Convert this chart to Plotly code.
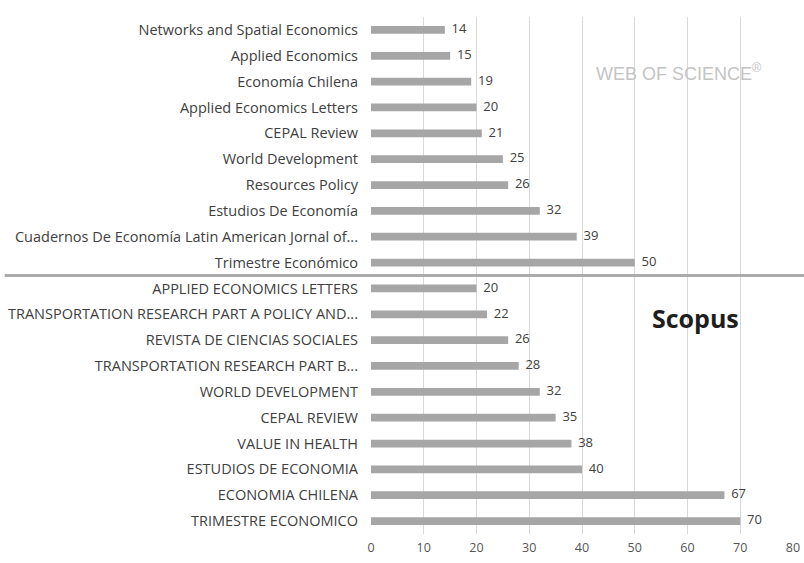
import plotly.graph_objects as go

wos_journals = [
    "Networks and Spatial Economics",
    "Applied Economics",
    "Economía Chilena",
    "Applied Economics Letters",
    "CEPAL Review",
    "World Development",
    "Resources Policy",
    "Estudios De Economía",
    "Cuadernos De Economía Latin American Jornal of...",
    "Trimestre Económico",
]
wos_counts = [14, 15, 19, 20, 21, 25, 26, 32, 39, 50]

scopus_journals = [
    "APPLIED ECONOMICS LETTERS",
    "TRANSPORTATION RESEARCH PART A POLICY AND...",
    "REVISTA DE CIENCIAS SOCIALES",
    "TRANSPORTATION RESEARCH PART B...",
    "WORLD DEVELOPMENT",
    "CEPAL REVIEW",
    "VALUE IN HEALTH",
    "ESTUDIOS DE ECONOMIA",
    "ECONOMIA CHILENA",
    "TRIMESTRE ECONOMICO",
]
scopus_counts = [20, 22, 26, 28, 32, 35, 38, 40, 67, 70]

x_ticks = [0, 10, 20, 30, 40, 50, 60, 70, 80]

labels = wos_journals + scopus_journals
values = wos_counts + scopus_counts
positions = list(range(len(labels)))

FONT = "Open Sans"

fig = go.Figure()
fig.add_trace(go.Bar(
    y=positions,
    x=values,
    orientation="h",
    width=0.3,
    marker=dict(color="#a6a6a6", line=dict(width=0)),
    hoverinfo="skip",
))
fig.add_trace(go.Scatter(
    y=positions,
    x=values,
    mode="text",
    text=[str(v) for v in values],
    texttemplate="  %{x}",
    textposition="middle right",
    cliponaxis=False,
    textfont=dict(family=FONT, size=13, color="#404040"),
    hoverinfo="skip",
))

n_wos = len(wos_journals)
fig.add_shape(type="line", xref="paper", yref="y",
              x0=-0.868, x1=1.03, y0=n_wos - 0.5, y1=n_wos - 0.5,
              line=dict(color="#ababab", width=3), layer="above")

fig.add_annotation(x=0.73, y=1.63, xref="paper", yref="y",
                   xanchor="center", yanchor="middle",
                   text="WEB OF SCIENCE<sup>®</sup>", showarrow=False,
                   font=dict(family="Liberation Sans", size=18, color="#c4c4c4"))
fig.add_annotation(x=0.768, y=11.14, xref="paper", yref="y",
                   xanchor="center", yanchor="middle",
                   text="<b>Scopus</b>", showarrow=False,
                   font=dict(family=FONT, size=25, color="#1e1e1e"))

fig.update_layout(
    width=804, height=563,
    margin=dict(l=371, r=11, t=17, b=29),
    paper_bgcolor="white", plot_bgcolor="white",
    showlegend=False,
    xaxis=dict(range=[0, 80], tickvals=x_ticks, showgrid=True,
               gridcolor="#d9d9d9", gridwidth=1, zeroline=False,
               showline=False, ticks="", ticklabelstandoff=4,
               automargin=False,
               tickfont=dict(family=FONT, size=12.5, color="#555555"),
               fixedrange=True),
    yaxis=dict(range=[len(labels) - 0.5, -0.5], tickvals=positions,
               ticktext=labels, showgrid=False, zeroline=False,
               showline=False, ticks="", ticklabelstandoff=12,
               automargin=False,
               tickfont=dict(family=FONT, size=14.5, color="#404040"),
               fixedrange=True),
)

fig.write_html(
    "out.html",
    config={"displayModeBar": False, "staticPlot": True},
    post_script="document.body.style.margin='0';document.body.style.overflow='hidden';",
)
